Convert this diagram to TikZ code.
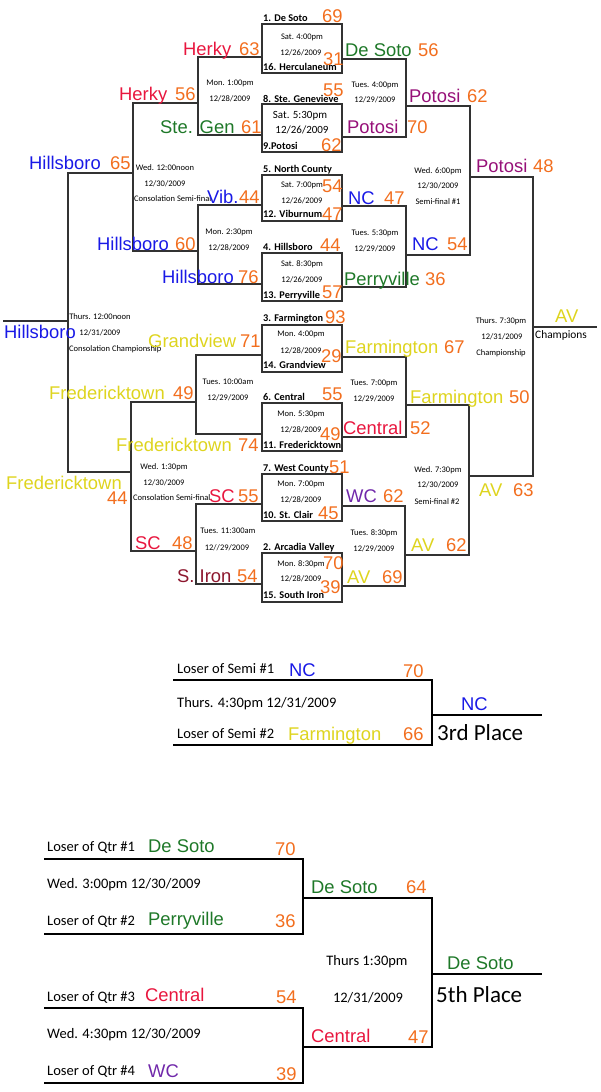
\documentclass[tikz,border=0pt]{standalone}
\usepackage{fontspec}
\usepackage{xcolor}
\usepackage{tikz}
\usetikzlibrary{positioning}
\newfontfamily\arialf{Liberation Sans}
\newfontfamily\calf{Carlito}
\newcommand{\teamfont}{\arialf\fontsize{18.4}{20}\selectfont}
\newcommand{\seedfont}{\calf\bfseries\fontsize{10.3}{12}\selectfont}
\newcommand{\infofont}{\calf\fontsize{8.5}{10}\selectfont}
\newcommand{\bigboxfont}{\calf\fontsize{11}{13}\selectfont}
\newcommand{\loserfont}{\calf\fontsize{14.5}{16}\selectfont}
\newcommand{\placefont}{\calf\fontsize{23}{26}\selectfont}
\newcommand{\champfont}{\calf\fontsize{11.4}{13}\selectfont}
\definecolor{scoreorange}{RGB}{242,110,30}
\definecolor{herkyred}{RGB}{232,22,62}
\definecolor{gengreen}{RGB}{30,120,40}
\definecolor{hillblue}{RGB}{25,25,230}
\definecolor{fredyellow}{RGB}{222,212,30}
\definecolor{potosipurple}{RGB}{150,16,120}
\definecolor{wcpurple}{RGB}{112,40,170}
\definecolor{ironred}{RGB}{140,22,45}
\definecolor{linegray}{RGB}{50,50,50}
\tikzset{team/.style={font=\teamfont, inner sep=0pt, anchor=base west},
         score/.style={team, text=scoreorange},
         seed/.style={font=\seedfont, inner sep=0pt, anchor=base west},
         info/.style={font=\infofont, inner sep=0pt, anchor=base},
         loser/.style={font=\loserfont, inner sep=0pt, anchor=base west},
         place/.style={font=\placefont, inner sep=0pt, anchor=base west},
         champ/.style={font=\champfont, inner sep=0pt, anchor=base west},
         brk/.style={draw=linegray, line width=1.2pt},
         brkb/.style={draw=black, line width=1.9pt}
        }

\begin{document}
\begin{tikzpicture}[x=1pt,y=-1pt]
\useasboundingbox (0,0) rectangle (600,1092);
%First round boxes
\draw[brk] (262,24) rectangle (342,73);
\draw[brk] (262,104) rectangle (342,152);
\draw[brk] (262,175) rectangle (342,221);
\draw[brk] (262,253) rectangle (342,301);
\draw[brk] (262,325) rectangle (342,372);
\draw[brk] (262,403) rectangle (342,451);
\draw[brk] (262,474) rectangle (342,521);
\draw[brk] (262,553) rectangle (342,602);

%Consolation side
\draw[brk] (262,57) -| (198,135) -- (262,135);
\draw[brk] (262,205) -| (198,284) -- (262,284);
\draw[brk] (198,103) -| (133,251) -- (198,251);
\draw[brk] (262,355) -| (196,434) -- (262,434);
\draw[brk] (262,504) -| (196,584) -- (262,584);
\draw[brk] (196,402) -| (131,551) -- (196,551);
\draw[brk] (133,173) -| (68,472) -- (131,472);
\draw[brk] (68,321) -- (3,321);

%Championship side
\draw[brk] (342,59) -| (406,137) -- (342,137);
\draw[brk] (342,206) -| (406,287) -- (342,287);
\draw[brk] (406,106) -| (470,255) -- (406,255);
\draw[brk] (342,357) -| (406,437) -- (342,437);
\draw[brk] (342,506) -| (405,586) -- (342,586);
\draw[brk] (406,405) -| (469,555) -- (406,555);
\draw[brk] (470,177) -| (533,476) -- (470,476);
\draw[brk] (533,327) -- (597,327);

%Seeds
\node[seed] (s1) at (263,21) {1. De Soto};
\node[seed] (s16) at (263,70) {16. Herculaneum};
\node[seed] (s8) at (263,102) {8. Ste. Genevieve};
\node[seed] (s9) at (263,149) {9.Potosi};
\node[seed] (s5) at (263,172) {5. North County};
\node[seed] (s12) at (263,217) {12. Viburnum};
\node[seed] (s4) at (263,250) {4. Hillsboro};
\node[seed] (s13) at (263,298) {13. Perryville};
\node[seed] (s3) at (263,321) {3. Farmington};
\node[seed] (s14) at (263,368) {14. Grandview};
\node[seed] (s6) at (263,400) {6. Central};
\node[seed] (s11) at (263,448) {11. Fredericktown};
\node[seed] (s7) at (263,471) {7. West County};
\node[seed] (s10) at (263,518) {10. St. Clair};
\node[seed] (s2) at (263,550) {2. Arcadia Valley};
\node[seed] (s15) at (263,598) {15. South Iron};

%First round times
\node[info] (g1a) at (302,39) {Sat. 4:00pm};
\node[info] (g1b) at (301,55) {12/26/2009};
\node[info, font=\bigboxfont] (g2a) at (300,118) {Sat. 5:30pm};
\node[info, font=\bigboxfont] (g2b) at (302,133) {12/26/2009};
\node[info] (g3a) at (302,187) {Sat. 7:00pm};
\node[info] (g3b) at (302,203) {12/26/2009};
\node[info] (g4a) at (302,266) {Sat. 8:30pm};
\node[info] (g4b) at (302,282) {12/26/2009};
\node[info] (g5a) at (301,336) {Mon. 4:00pm};
\node[info] (g5b) at (301,353) {12/28/2009};
\node[info] (g6a) at (301,416) {Mon. 5:30pm};
\node[info] (g6b) at (301,432) {12/28/2009};
\node[info] (g7a) at (301,486) {Mon. 7:00pm};
\node[info] (g7b) at (301,502) {12/28/2009};
\node[info] (g8a) at (301,566) {Mon. 8:30pm};
\node[info] (g8b) at (301,581) {12/28/2009};

%Consolation times
\node[info] (c2a) at (230,85) {Mon. 1:00pm};
\node[info] (c2b) at (230,101) {12/28/2009};
\node[info] (c2c) at (229,234) {Mon. 2:30pm};
\node[info] (c2d) at (229,250) {12/28/2009};
\node[info] (c3a) at (165,170) {Wed. 12:00noon};
\node[info] (c3b) at (165,186) {12/30/2009};
\node[info, anchor=base west] (c3c) at (134,201) {Consolation Semi-final};
\node[info] (c4a) at (100,319) {Thurs. 12:00noon};
\node[info] (c4b) at (100,335) {12/31/2009};
\node[info, anchor=base west] (c4c) at (69,351) {Consolation Championship};
\node[info] (c2e) at (228,384) {Tues. 10:00am};
\node[info] (c2f) at (228,400) {12/29/2009};
\node[info] (c3d) at (164,469) {Wed. 1:30pm};
\node[info] (c3e) at (164,485) {12/30/2009};
\node[info, anchor=base west] (c3f) at (133,500) {Consolation Semi-final};
\node[info] (c2g) at (228,533) {Tues. 11:300am};
\node[info] (c2h) at (227,550) {12//29/2009};

%Championship times
\node[info] (w2a) at (375,87) {Tues. 4:00pm};
\node[info] (w2b) at (375,102) {12/29/2009};
\node[info] (w3a) at (438,173) {Wed. 6:00pm};
\node[info] (w3b) at (438,188) {12/30/2009};
\node[info] (w3c) at (438,204) {Semi-final \#1};
\node[info] (w2c) at (375,235) {Tues. 5:30pm};
\node[info] (w2d) at (375,251) {12/29/2009};
\node[info] (w4a) at (501,323) {Thurs. 7:30pm};
\node[info] (w4b) at (502,339) {12/31/2009};
\node[info] (w4c) at (501,355) {Championship};
\node[info] (w2e) at (374,385) {Tues. 7:00pm};
\node[info] (w2f) at (374,401) {12/29/2009};
\node[info] (w3d) at (438,472) {Wed. 7:30pm};
\node[info] (w3e) at (438,487) {12/30/2009};
\node[info] (w3f) at (437,504) {Semi-final \#2};
\node[info] (w2g) at (374,535) {Tues. 8:30pm};
\node[info] (w2h) at (374,551) {12/29/2009};

%Consolation results
\node[team, text=herkyred] (herkyA) at (183,55) {Herky};
\node[score] (herkyAs) at (239,55) {63};
\node[team, text=herkyred] (herkyB) at (119,100) {Herky};
\node[score] (herkyBs) at (175,100) {56};
\node[team, text=gengreen] (stegen) at (160,133) {Ste. Gen};
\node[score] (stegens) at (241,133) {61};
\node[team, text=hillblue] (hillsC) at (29,169) {Hillsboro};
\node[score] (hillsCs) at (110,169) {65};
\node[team, text=hillblue] (vib) at (207,203) {Vib.};
\node[score] (vibs) at (239,203) {44};
\node[team, text=hillblue] (hillsB) at (97,250) {Hillsboro};
\node[score] (hillsBs) at (175,250) {60};
\node[team, text=hillblue] (hillsA) at (162,283) {Hillsboro};
\node[score] (hillsAs) at (238,283) {76};
\node[team, text=hillblue] (hillsD) at (4,338) {Hillsboro};
\node[team, text=fredyellow] (grand) at (148,347) {Grandview};
\node[score] (grands) at (240,347) {71};
\node[team, text=fredyellow] (fredB) at (49,399) {Fredericktown};
\node[score] (fredBs) at (173,399) {49};
\node[team, text=fredyellow] (fredA) at (116,451) {Fredericktown};
\node[score] (fredAs) at (238,451) {74};
\node[team, text=fredyellow] (fredC) at (6,489) {Fredericktown};
\node[score] (fredCs) at (107,504) {44};
\node[team, text=herkyred] (scA) at (209,502) {SC};
\node[score] (scAs) at (238,502) {55};
\node[team, text=herkyred] (scB) at (135,549) {SC};
\node[score] (scBs) at (172,549) {48};
\node[team, text=ironred] (iron) at (177,582) {S. Iron};
\node[score] (irons) at (237,582) {54};

%Championship results
\node[score] (s1s) at (322,22) {69};
\node[team, text=gengreen] (desotoA) at (345,56) {De Soto};
\node[score] (desotoAs) at (418,56) {56};
\node[score] (s16s) at (323,65) {31};
\node[score] (s8s) at (323,96) {55};
\node[team, text=potosipurple] (potosiB) at (409,102) {Potosi};
\node[score] (potosiBs) at (467,102) {62};
\node[team, text=potosipurple] (potosiA) at (347,133) {Potosi};
\node[score] (potosiAs) at (407,133) {70};
\node[score] (s9s) at (321,151) {62};
\node[team, text=potosipurple] (potosiC) at (476,172) {Potosi};
\node[score] (potosiCs) at (533,172) {48};
\node[score] (s5s) at (322,192) {54};
\node[team, text=hillblue] (ncA) at (348,204) {NC};
\node[score] (ncAs) at (384,204) {47};
\node[score] (s12s) at (322,220) {47};
\node[team, text=hillblue] (ncB) at (412,250) {NC};
\node[score] (ncBs) at (447,250) {54};
\node[score] (s4s) at (320,251) {44};
\node[team, text=gengreen] (perry) at (344,285) {Perryville};
\node[score] (perrys) at (425,285) {36};
\node[score] (s13s) at (322,298) {57};
\node[score] (s3s) at (325,323) {93};
\node[team, text=fredyellow] (avD) at (555,322) {AV};
\node[champ] (champ) at (535,338) {Champions};
\node[team, text=fredyellow] (farmA) at (345,353) {Farmington};
\node[score] (farmAs) at (444,353) {67};
\node[score] (s14s) at (321,362) {29};
\node[score] (s6s) at (322,400) {55};
\node[team, text=fredyellow] (farmB) at (410,403) {Farmington};
\node[score] (farmBs) at (509,403) {50};
\node[team, text=herkyred] (central) at (343,434) {Central};
\node[score] (centrals) at (410,434) {52};
\node[score] (s11s) at (320,440) {49};
\node[score] (s7s) at (329,473) {51};
\node[team, text=fredyellow] (avC) at (479,496) {AV};
\node[score] (avCs) at (513,496) {63};
\node[team, text=wcpurple] (wc) at (346,502) {WC};
\node[score] (wcs) at (383,502) {62};
\node[score] (s10s) at (318,519) {45};
\node[team, text=fredyellow] (avB) at (411,551) {AV};
\node[score] (avBs) at (446,551) {62};
\node[score] (s2s) at (323,569) {70};
\node[team, text=fredyellow] (avA) at (347,583) {AV};
\node[score] (avAs) at (382,583) {69};
\node[score] (s15s) at (320,593) {39};

%Third place
\draw[brkb] (173,680) -| (432,745) -- (173,745);
\draw[brkb] (432,715) -- (542,715);
\node[loser] (semiA) at (177,673) {Loser of Semi \#1};
\node[team, text=hillblue] (ncC) at (289,676) {NC};
\node[score] (ncCs) at (403,677) {70};
\node[loser] (thirdtime) at (177,707) {Thurs. 4:30pm 12/31/2009};
\node[loser] (semiB) at (177,738) {Loser of Semi \#2};
\node[team, text=fredyellow] (farmC) at (288,740) {Farmington};
\node[score] (farmCs) at (403,740) {66};
\node[team, text=hillblue] (ncD) at (461,710) {NC};
\node[place] (third) at (437,740) {3rd Place};

%Fifth place
\draw[brkb] (44,859) -| (303,934) -- (44,934);
\draw[brkb] (44,1008) -| (303,1083) -- (44,1083);
\draw[brkb] (303,898) -| (432,1047) -- (303,1047);
\draw[brkb] (432,974) -- (542,974);
\node[loser] (qtrA) at (47,851) {Loser of Qtr \#1};
\node[team, text=gengreen] (desotoB) at (148,852) {De Soto};
\node[score] (desotoBs) at (275,855) {70};
\node[loser] (fifthA) at (47,888) {Wed. 3:00pm 12/30/2009};
\node[loser] (qtrB) at (47,925) {Loser of Qtr \#2};
\node[team, text=gengreen] (perryB) at (148,925) {Perryville};
\node[score] (perryBs) at (275,927) {36};
\node[team, text=gengreen] (desotoC) at (311,893) {De Soto};
\node[score] (desotoCs) at (406,893) {64};
\node[loser, anchor=base] (fifthtime) at (367,965) {Thurs 1:30pm};
\node[loser, anchor=base] (fifthdate) at (368,1002) {12/31/2009};
\node[loser] (qtrC) at (47,1001) {Loser of Qtr \#3};
\node[team, text=herkyred] (centralB) at (145,1001) {Central};
\node[score] (centralBs) at (276,1003) {54};
\node[loser] (fifthB) at (47,1038) {Wed. 4:30pm 12/30/2009};
\node[loser] (qtrD) at (47,1075) {Loser of Qtr \#4};
\node[team, text=wcpurple] (wcB) at (148,1077) {WC};
\node[score] (wcBs) at (276,1080) {39};
\node[team, text=herkyred] (centralC) at (311,1042) {Central};
\node[score] (centralCs) at (408,1043) {47};
\node[team, text=gengreen] (desotoD) at (447,969) {De Soto};
\node[place] (fifth) at (436,1002) {5th Place};
\end{tikzpicture}
\end{document}
